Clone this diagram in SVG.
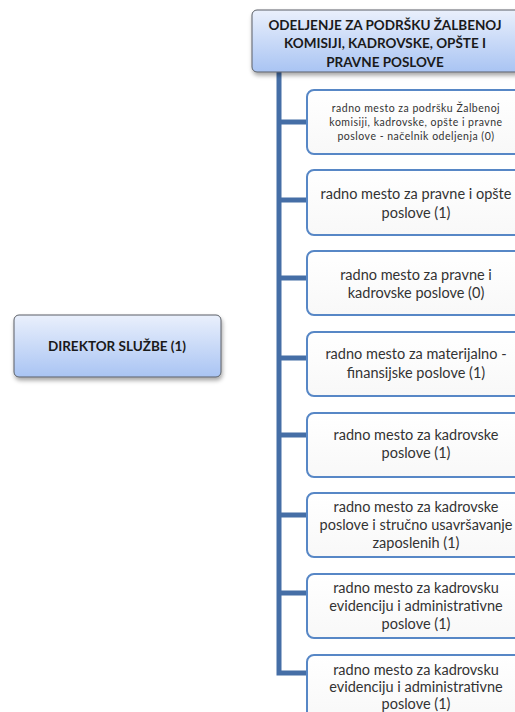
<svg xmlns="http://www.w3.org/2000/svg" width="515" height="712" viewBox="0 0 515 712">
<defs>
<linearGradient id="blueGrad" x1="0" y1="0" x2="0" y2="1">
<stop offset="0" stop-color="#eaf0fc"/>
<stop offset="1" stop-color="#a9c4f3"/>
</linearGradient>
<linearGradient id="whiteGrad" x1="0" y1="0" x2="0" y2="1">
<stop offset="0" stop-color="#ffffff"/>
<stop offset="1" stop-color="#f8f8f8"/>
</linearGradient>
<filter id="shadow" x="-10%" y="-10%" width="130%" height="140%">
<feDropShadow dx="1" dy="3" stdDeviation="2" flood-color="#000" flood-opacity="0.35"/>
</filter>
</defs>
<style>
.head{fill:url(#blueGrad);stroke:#5a5f66;stroke-width:1;filter:url(#shadow)}
.child{fill:url(#whiteGrad);stroke:#5787c6;stroke-width:2}
.ht{font-family:Lato,"Liberation Sans",sans-serif;font-weight:bold;font-size:13.5px;fill:#1a1a1a;text-anchor:middle}
.ct{font-family:Lato,"Liberation Sans",sans-serif;font-size:14.5px;fill:#333;text-anchor:middle}
.st{font-family:Lato,"Liberation Sans",sans-serif;font-size:10.5px;fill:#333;text-anchor:middle;letter-spacing:0.5px}
.conn{fill:none;stroke:#456ea6;stroke-width:5}
</style>
<rect width="515" height="712" fill="#ffffff"/>
<g id="connectors">
<path class="conn" d="M279,72 V673 H307"/>
<path class="conn" d="M279,122 H307 M279,200 H307 M279,278 H307 M279,358 H307 M279,435 H307 M279,515 H307 M279,593 H307"/>
</g>
<g id="director">
<rect class="head" x="14" y="315" width="207" height="62" rx="5"/>
<text class="ht" x="117" y="351">DIREKTOR SLUŽBE (1)</text>
</g>
<g id="odeljenje">
<rect class="head" x="252" y="10" width="270" height="62" rx="5"/>
<text class="ht" x="385" y="30">ODELJENJE ZA PODRŠKU ŽALBENOJ</text>
<text class="ht" x="385" y="48">KOMISIJI, KADROVSKE, OPŠTE I</text>
<text class="ht" x="385" y="67">PRAVNE POSLOVE</text>
</g>
<g id="rm1">
<rect class="child" x="307" y="90" width="220" height="64" rx="7"/>
<text class="st" x="416" y="112">radno mesto za podršku Žalbenoj</text>
<text class="st" x="416" y="126">komisiji, kadrovske, opšte i pravne</text>
<text class="st" x="416" y="140">poslove - načelnik odeljenja  (0)</text>
</g>
<g id="rm2">
<rect class="child" x="307" y="170" width="220" height="65" rx="7"/>
<text class="ct" x="416" y="199">radno mesto za pravne i opšte</text>
<text class="ct" x="416" y="218">poslove (1)</text>
</g>
<g id="rm3">
<rect class="child" x="307" y="251" width="220" height="64" rx="7"/>
<text class="ct" x="416" y="280">radno mesto za pravne i</text>
<text class="ct" x="416" y="298">kadrovske poslove (0)</text>
</g>
<g id="rm4">
<rect class="child" x="307" y="332" width="220" height="64" rx="7"/>
<text class="ct" x="416" y="359">radno mesto za  materijalno -</text>
<text class="ct" x="416" y="378">finansijske poslove (1)</text>
</g>
<g id="rm5">
<rect class="child" x="307" y="413" width="220" height="64" rx="7"/>
<text class="ct" x="416" y="440">radno mesto za  kadrovske</text>
<text class="ct" x="416" y="458">poslove (1)</text>
</g>
<g id="rm6">
<rect class="child" x="307" y="493" width="220" height="64" rx="7"/>
<text class="ct" x="416" y="512">radno mesto za  kadrovske</text>
<text class="ct" x="416" y="530">poslove i stručno usavršavanje</text>
<text class="ct" x="416" y="548">zaposlenih (1)</text>
</g>
<g id="rm7">
<rect class="child" x="307" y="574" width="220" height="64" rx="7"/>
<text class="ct" x="416" y="593">radno mesto za kadrovsku</text>
<text class="ct" x="416" y="611">evidenciju i administrativne</text>
<text class="ct" x="416" y="629">poslove (1)</text>
</g>
<g id="rm8">
<rect class="child" x="307" y="655" width="220" height="64" rx="7"/>
<text class="ct" x="416" y="675">radno mesto za kadrovsku</text>
<text class="ct" x="416" y="692">evidenciju i administrativne</text>
<text class="ct" x="416" y="709">poslove (1)</text>
</g>
</svg>
